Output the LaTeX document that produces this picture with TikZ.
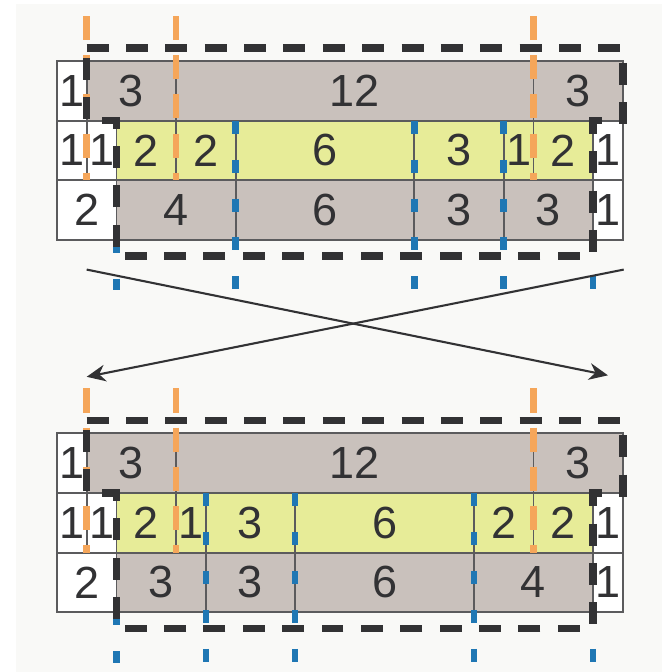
\documentclass[tikz,border=0pt]{standalone}
\usepackage{fontspec}
\setmainfont{Liberation Sans}
\usetikzlibrary{arrows.meta}

\definecolor{cellgray}{RGB}{201,193,188}
\definecolor{cellyellow}{RGB}{231,236,152}
\definecolor{cutorange}{RGB}{245,166,90}
\definecolor{cutblue}{RGB}{31,119,180}
\definecolor{darkline}{RGB}{50,50,52}
\definecolor{paper}{RGB}{249,249,247}

\begin{document}
\begin{tikzpicture}[x=0.5cm,y=0.5cm,
    cell/.style={draw=darkline!80, line width=0.9pt, inner sep=0pt, minimum height=1cm,
      text=darkline, font=\fontsize{21.5}{24}\selectfont},
    orangecut/.style={cutorange, line width=3.3pt, dash pattern=on 11.5pt off 7.2pt},
    bluecut/.style={cutblue, line width=3.1pt, dash pattern=on 6.2pt off 12.4pt},
    blackcut/.style={darkline, line width=3.5pt, dash pattern=on 10.5pt off 8.3pt},
    arr/.style={darkline, line width=1pt, -{Stealth[length=9pt,width=8pt]}}]
      \useasboundingbox (-1.91,2.05) rectangle (20.31,-20.51);
      \fill[paper] (-1.38,1.91) rectangle (20.31,-20.51);

      % first row is the same in both blocks
      \foreach \blk/\sy in {u/0,d/-12.5}
               {
                 \foreach \a/\b/\n/\c [count=\k] in {0/1/1/white,1/4/3/cellgray,4/16/12/cellgray,16/19/3/cellgray}
                   \node (\blk1-\k) at ({(\a+\b)/2},\sy-1) [cell, fill=\c, minimum width={(\b-\a)*0.5cm}] {\n};
               }

      % upper block
      \foreach \a/\b/\n/\c [count=\k] in {0/1/1/white,1/2/1/white,2/4/2/cellyellow,4/6/2/cellyellow,6/12/6/cellyellow,
                                          12/15/3/cellyellow,15/16/1/cellyellow,16/18/2/cellyellow,18/19/1/white}
        \node (u2-\k) at ({(\a+\b)/2},-3) [cell, fill=\c, minimum width={(\b-\a)*0.5cm}] {\n};
      \foreach \a/\b/\n/\c [count=\k] in {0/2/2/white,2/6/4/cellgray,6/12/6/cellgray,12/15/3/cellgray,15/18/3/cellgray,18/19/1/white}
        \node (u3-\k) at ({(\a+\b)/2},-5) [cell, fill=\c, minimum width={(\b-\a)*0.5cm}] {\n};

      % lower block
      \foreach \a/\b/\n/\c [count=\k] in {0/1/1/white,1/2/1/white,2/4/2/cellyellow,4/5/1/cellyellow,5/8/3/cellyellow,
                                          8/14/6/cellyellow,14/16/2/cellyellow,16/18/2/cellyellow,18/19/1/white}
        \node (d2-\k) at ({(\a+\b)/2},-15.5) [cell, fill=\c, minimum width={(\b-\a)*0.5cm}] {\n};
      \foreach \a/\b/\n/\c [count=\k] in {0/2/2/white,2/5/3/cellgray,5/8/3/cellgray,8/14/6/cellgray,14/18/4/cellgray,18/19/1/white}
        \node (d3-\k) at ({(\a+\b)/2},-17.5) [cell, fill=\c, minimum width={(\b-\a)*0.5cm}] {\n};

      % cuts and outlines
      \foreach \sy/\xs in {0/{2/-6,6/-2,12/-2,15/-2,18/-2},-12.5/{2/-6,5/-2,8/-2,14/-2,18/-2}}
               {
                 \foreach \x in {1,4,16}
                   \draw[orangecut] (\x,\sy+1.51) -- (\x,\sy-4);
                 \foreach \x/\t in \xs
                   \draw[bluecut] (\x,\sy+\t) -- (\x,\sy-7.7);
                 \draw[blackcut] (1,\sy+0.44) -- (19,\sy+0.44) -- (19,\sy-2) -- (18,\sy-2)
                    -- (18,\sy-6.54) -- (2,\sy-6.54) -- (2,\sy-2) -- (1,\sy-2) -- cycle;
               }

      \coordinate (s1) at (1,-7);
      \coordinate (e1) at (18.5,-10.55);
      \coordinate (s2) at (19.03,-7);
      \coordinate (e2) at (1,-10.6);
      \draw[arr] (s1) -- (e1);
      \draw[arr] (s2) -- (e2);
    \end{tikzpicture}
\end{document}
